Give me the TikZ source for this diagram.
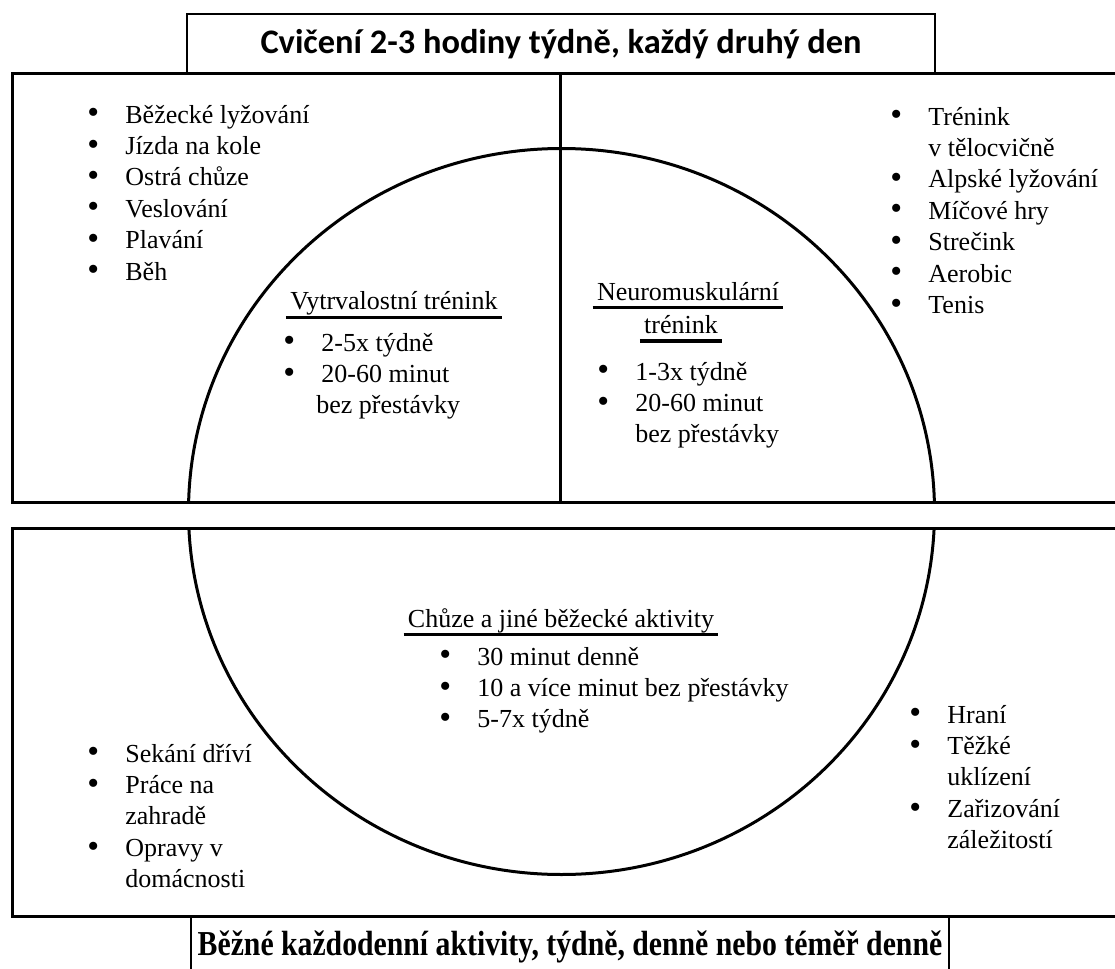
\documentclass[tikz,border=0pt]{standalone}
\usepackage{fontspec}
\setmainfont{Liberation Serif}
\newfontfamily\titlefont{Carlito}
\newfontfamily\footfont[FakeStretch=0.85]{Liberation Serif}
\usetikzlibrary{positioning}

\newcommand{\itembul}{\makebox[19pt][l]{\raisebox{-0.4pt}{\scalebox{1.3}{\textbullet}}}}
\newcommand{\itemgap}{\hspace*{19pt}}

\tikzset{
	panel/.style={line width=1.5pt},
	titlebox/.style={draw, line width=1pt, minimum width=374pt, minimum height=30pt},
	listnode/.style={anchor=base west, inner sep=0pt, font=\fontsize{13}{15.7}\selectfont},
	heading/.style={anchor=base, inner xsep=2pt, inner ysep=0pt, font=\fontsize{13}{15.7}\selectfont},
	underl/.style={line width=1.6pt}
}

\begin{document}
\begin{tikzpicture}[x=0.5pt, y=-0.5pt]
	\useasboundingbox (0,0) rectangle (1115,969);
	\clip (0,0) rectangle (1115,969);

	% titles
	\node[titlebox, font=\titlefont\bfseries\fontsize{17.2}{20}\selectfont] (toptitle) at (561,44) {Cvičení 2-3 hodiny týdně, každý druhý den};
	\node[titlebox, anchor=north, font=\footfont\bfseries\fontsize{17.5}{20}\selectfont] (foottitle) at (570,916) {Běžné každodenní aktivity, týdně, denně nebo téměř denně};

	% panels
	\draw[panel] (1130,73) -- (12,73) -- (12,502) -- (1130,502);
	\draw[panel] (560,73) -- (560,502);
	\draw[panel] (1130,528) -- (12,528) -- (12,916) -- (1130,916);

	% ellipse, cut at the gap
	\begin{scope}
		\clip (12,73) rectangle (1130,502) (12,528) rectangle (1130,916);
		\draw[line width=1.5pt] (561.5,511.5) ellipse [x radius=186.5pt, y radius=181.5pt];
	\end{scope}

	% outer lists
	\node[listnode] (endurlist) at (87,123) {\begin{tabular}[t]{@{}l@{}}
		\itembul Běžecké lyžování\\
		\itembul Jízda na kole\\
		\itembul Ostrá chůze\\
		\itembul Veslování\\
		\itembul Plavání\\
		\itembul Běh
	\end{tabular}};
	\node[listnode] (neurolist) at (890,125) {\begin{tabular}[t]{@{}l@{}}
		\itembul Trénink\\
		\itemgap v tělocvičně\\
		\itembul Alpské lyžování\\
		\itembul Míčové hry\\
		\itembul Strečink\\
		\itembul Aerobic\\
		\itembul Tenis
	\end{tabular}};
	\node[listnode] (homelist) at (87,762) {\begin{tabular}[t]{@{}l@{}}
		\itembul Sekání dříví\\
		\itembul Práce na\\
		\itemgap zahradě\\
		\itembul Opravy v\\
		\itemgap domácnosti
	\end{tabular}};
	\node[listnode] (dailylist) at (909,723) {\begin{tabular}[t]{@{}l@{}}
		\itembul Hraní\\
		\itembul Těžké\\
		\itemgap uklízení\\
		\itembul Zařizování\\
		\itemgap záležitostí
	\end{tabular}};

	% inner headings
	\node[heading] (endurhead) at (394,309) {Vytrvalostní trénink};
	\draw[underl] ([yshift=-4.2pt]endurhead.base west) -- ([yshift=-4.2pt]endurhead.base east);
	\node[heading] (neurohead) at (688,300) {Neuromuskulární};
	\draw[underl] ([yshift=-3.6pt]neurohead.base west) -- ([yshift=-3.6pt]neurohead.base east);
	\node[heading] (neurohead2) at (681,333) {trénink};
	\draw[underl] ([yshift=-4pt]neurohead2.base west) -- ([yshift=-4pt]neurohead2.base east);
	\node[heading] (walkhead) at (561,627) {Chůze a jiné běžecké aktivity};
	\draw[underl] ([yshift=-3.6pt]walkhead.base west) -- ([yshift=-3.6pt]walkhead.base east);

	% inner lists
	\node[listnode] (endurfreq) at (283,351) {\begin{tabular}[t]{@{}l@{}}
		\itembul 2-5x týdně\\
		\itembul 20-60 minut\\
		\hspace*{16.5pt}bez přestávky
	\end{tabular}};
	\node[listnode] (neurofreq) at (597,380) {\begin{tabular}[t]{@{}l@{}}
		\itembul 1-3x týdně\\
		\itembul 20-60 minut\\
		\itemgap bez přestávky
	\end{tabular}};
	\node[listnode] (walkfreq) at (439,665) {\begin{tabular}[t]{@{}l@{}}
		\itembul 30 minut denně\\
		\itembul 10 a více minut bez přestávky\\
		\itembul 5-7x týdně
	\end{tabular}};
\end{tikzpicture}
\end{document}
